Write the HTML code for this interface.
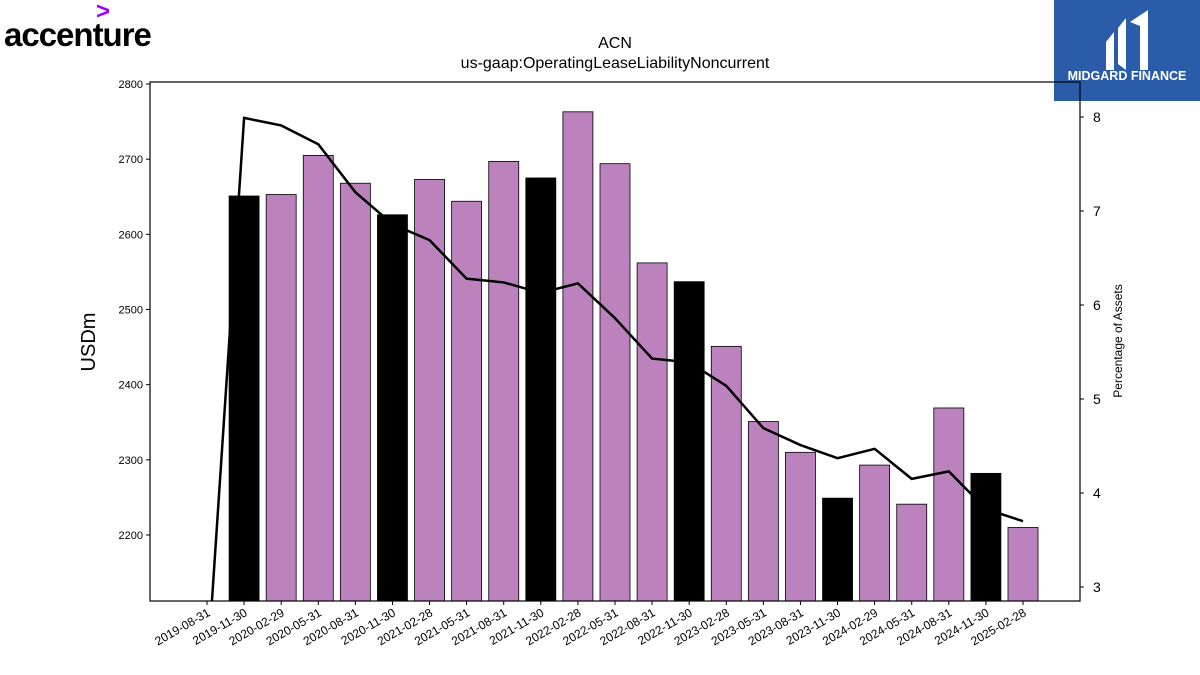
<!DOCTYPE html>
<html><head><meta charset="utf-8"><style>
body{margin:0;background:#fff;font-family:"Liberation Sans","DejaVu Sans",sans-serif}
#wrap{position:relative;width:1200px;height:675px;overflow:hidden}
</style></head><body>
<div id="wrap">
<div style="position:absolute;left:4px;top:2px;width:170px;height:50px">
<div style="position:absolute;left:92px;top:-4px;color:#a100ff;font-weight:bold;font-size:24px">&gt;</div>
<div style="position:absolute;left:0;top:14px;font-weight:bold;font-size:33px;letter-spacing:-1px;color:#000">accenture</div>
</div>
<div style="position:absolute;left:1054px;top:0;width:146px;height:101px;background:#2a5caa;color:#fff">
<svg width="146" height="70" style="position:absolute;left:0;top:0"><path d="M52 42 L60 32 L60 70 L52 70 Z M64 28 L72 18 L72 70 L64 64 Z M76 22 L94 10 L94 70 L86 70 L86 26 Z" fill="#fff"/></svg>
<div style="position:absolute;left:0;width:146px;top:69px;text-align:center;font-weight:bold;font-size:12.5px">MIDGARD FINANCE</div>
</div>
<svg id="chart" width="1200" height="675" style="position:absolute;left:0;top:0"></svg>
</div>
<script>
const categories=["2019-08-31","2019-11-30","2020-02-29","2020-05-31","2020-08-31","2020-11-30","2021-02-28","2021-05-31","2021-08-31","2021-11-30","2022-02-28","2022-05-31","2022-08-31","2022-11-30","2023-02-28","2023-05-31","2023-08-31","2023-11-30","2024-02-29","2024-05-31","2024-08-31","2024-11-30","2025-02-28"];
const barValues=[null,2651,2653,2705,2668,2626,2673,2644,2697,2675,2763,2694,2562,2537,2451,2351,2310,2249,2293,2241,2369,2282,2210];
const pctValues=[2.06,7.99,7.91,7.71,7.20,6.86,6.69,6.28,6.24,6.13,6.23,5.86,5.43,5.39,5.14,4.69,4.51,4.37,4.47,4.15,4.23,3.83,3.70];
const leftTicks=[2200,2300,2400,2500,2600,2700,2800];
const rightTicks=[3,4,5,6,7,8];
const highlight=["2019-11-30","2020-11-30","2021-11-30","2022-11-30","2023-11-30","2024-11-30"];
const NS="http://www.w3.org/2000/svg";
const svg=document.getElementById('chart');
const L=150,R=1080,T=82,B=601;
const x=i=>207+i*(1023-207)/22;
const yL=v=>535-(v-2200)*(451/600);
const yR=v=>587-(v-3)*94;
function mk(t,a,p){const e=document.createElementNS(NS,t);for(const k in a)e.setAttribute(k,a[k]);(p||svg).appendChild(e);return e;}
const clip=mk('clipPath',{id:'c'});mk('rect',{x:L,y:T,width:R-L,height:B-T},clip);
const g=mk('g',{'clip-path':'url(#c)'});
barValues.forEach((v,i)=>{if(v==null)return;
 const r=mk('rect',{x:x(i)-15,y:yL(v),width:30,height:B-yL(v),fill:highlight.includes(categories[i])?'#000':'#bc82bd',stroke:'#000','stroke-width':0.8},g);
 
 
});
const pl=mk('polyline',{points:pctValues.map((v,i)=>x(i)+','+yR(v)).join(' '),fill:'none',stroke:'#000','stroke-width':2.5},g);


mk('rect',{x:L,y:T,width:R-L,height:B-T,fill:'none',stroke:'#000','stroke-width':1.2});
leftTicks.forEach(v=>{mk('line',{x1:L-4,x2:L,y1:yL(v),y2:yL(v),stroke:'#000'});
 const t=mk('text',{x:L-7,y:yL(v)+4,'text-anchor':'end','font-size':11});t.textContent=v;
 });
rightTicks.forEach(v=>{mk('line',{x1:R,x2:R+4,y1:yR(v),y2:yR(v),stroke:'#000'});
 const t=mk('text',{x:R+13,y:yR(v)+5,'font-size':14});t.textContent=v;
 });
categories.forEach((c,i)=>{mk('line',{x1:x(i),x2:x(i),y1:B,y2:B+4,stroke:'#000'});
 const t=mk('text',{x:x(i)+4,y:B+14,'text-anchor':'end','font-size':12,transform:`rotate(-30 ${x(i)+4} ${B+14})`});t.textContent=c;
 });
let t=mk('text',{x:615,y:48,'text-anchor':'middle','font-size':16});t.textContent='ACN';

t=mk('text',{x:615,y:68,'text-anchor':'middle','font-size':16});t.textContent='us-gaap:OperatingLeaseLiabilityNoncurrent';

t=mk('text',{x:95,y:342,'text-anchor':'middle','font-size':20,transform:'rotate(-90 95 342)'});t.textContent='USDm';

t=mk('text',{x:1122,y:341,'text-anchor':'middle','font-size':12,transform:'rotate(-90 1122 341)'});t.textContent='Percentage of Assets';

</script>
</body></html>
